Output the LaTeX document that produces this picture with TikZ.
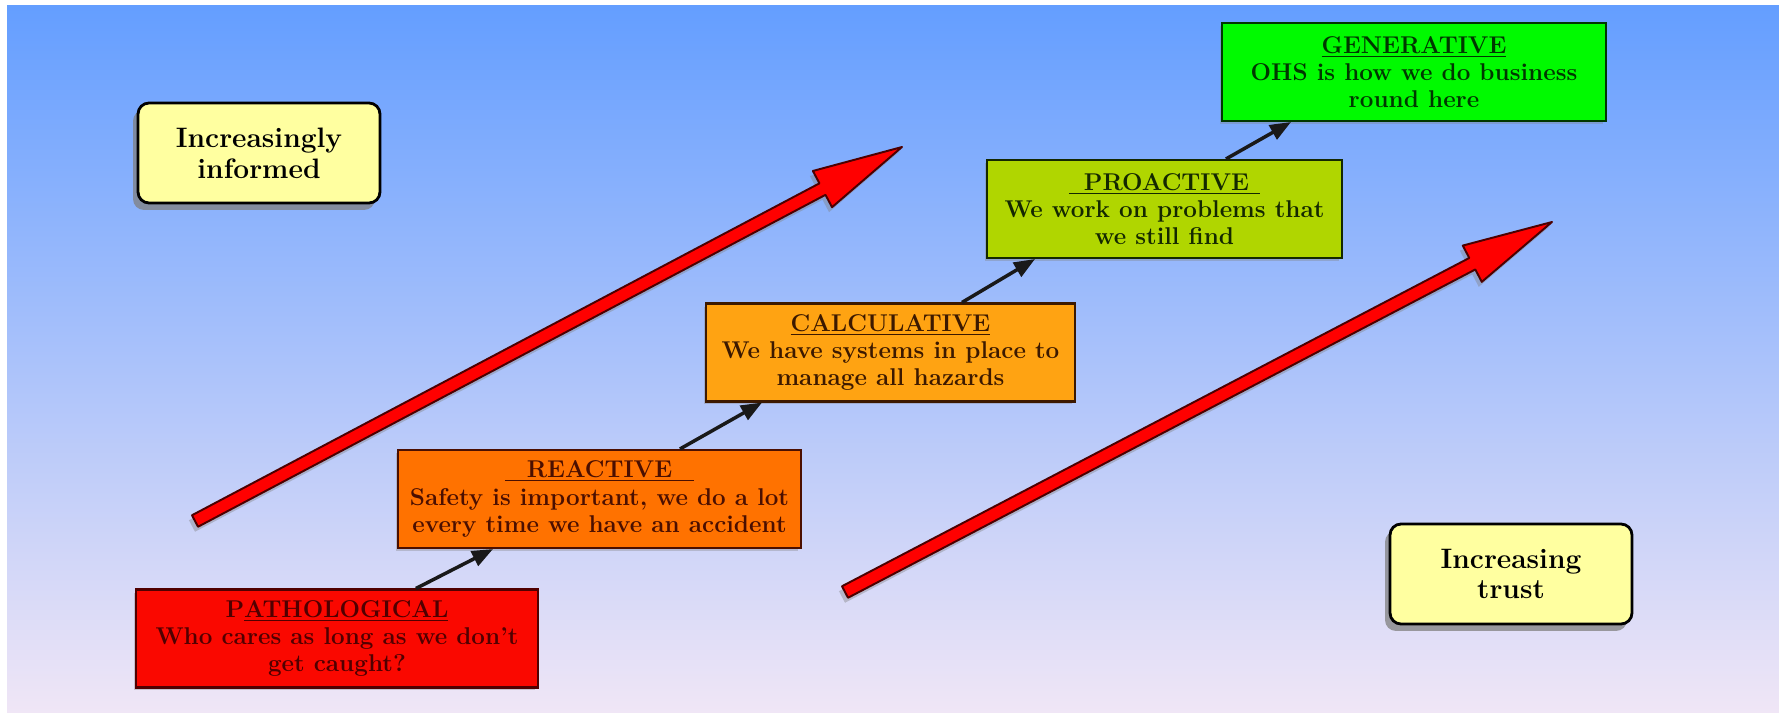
\documentclass[tikz,border=0pt]{standalone}
\usepackage{tikz}
\usetikzlibrary{arrows.meta, positioning, calc, shadows}
\definecolor{skytop}{RGB}{100,158,255}
\definecolor{skymid}{RGB}{165,192,250}
\definecolor{skybot}{RGB}{240,230,246}
\definecolor{notefill}{RGB}{255,255,160}
\definecolor{pathofill}{RGB}{250,8,0}
\definecolor{reacfill}{RGB}{255,114,0}
\definecolor{calcfill}{RGB}{255,163,18}
\definecolor{proafill}{RGB}{176,214,0}
\definecolor{genefill}{RGB}{0,250,0}
\definecolor{pathotext}{RGB}{80,0,0}
\definecolor{reactext}{RGB}{75,15,0}
\definecolor{calctext}{RGB}{60,25,0}
\definecolor{proatext}{RGB}{20,40,0}
\definecolor{genetext}{RGB}{0,55,0}
\tikzset{
    stage/.style={rectangle, draw, line width=1.2pt, minimum height=1.96cm, align=center, inner sep=2pt, font=\fontsize{13.8}{15.5}\selectfont\bfseries, drop shadow={shadow xshift=-0.05cm, shadow yshift=-0.06cm, opacity=0.35}},
    note/.style={rectangle, draw=black, line width=1.6pt, fill=notefill, rounded corners=0.22cm, minimum width=4.84cm, minimum height=2cm, align=center, font=\fontsize{16}{17.5}\selectfont\bfseries, drop shadow={shadow xshift=-0.1cm, shadow yshift=-0.14cm, opacity=0.75}},
    climb/.style={-{Triangle[length=0.42cm, width=0.32cm]}, line width=0.07cm, black!90},
    bigarrow/.style={fill=red, draw=red!30!black, line width=1.1pt, line join=round, drop shadow={shadow xshift=-0.06cm, shadow yshift=-0.1cm, opacity=0.4}},
}
\begin{document}
\begin{tikzpicture}[x=0.02cm, y=-0.02cm]
    % background
    \useasboundingbox (0,0) rectangle (1779,713);
    \fill[white] (0,0) rectangle (1779,713);
    \shade[top color=skytop, middle color=skymid, bottom color=skybot] (7,6) rectangle (1779,713);

    % side notes
    \node[note] (informed) at (259,153) {Increasingly\\informed};
    \node[note] (trust) at (1511,574) {Increasing\\trust};

    % big red arrows
    \coordinate (inf-s) at (195,521);
    \coordinate (inf-e) at (902,147);
    \coordinate (tr-s) at (845,592);
    \coordinate (tr-e) at (1552,222);
    \foreach \n in {inf, tr} {
        \coordinate (\n-b) at ($(\n-e)!1.8cm!(\n-s)$);
        \draw[bigarrow] ($(\n-s)!0.13cm!90:(\n-e)$) -- ($(\n-b)!0.13cm!90:(\n-e)$) -- ($(\n-b)!0.41cm!90:(\n-e)$) -- (\n-e)
            -- ($(\n-b)!0.41cm!-90:(\n-e)$) -- ($(\n-b)!0.13cm!-90:(\n-e)$) -- ($(\n-s)!0.13cm!-90:(\n-e)$) -- cycle;
    }

    % culture stages
    \node[stage, fill=pathofill, draw=pathotext, text=pathotext, minimum width=8.04cm] (patho) at (337,638.5) {P\underline{ATHOLOGICAL}\\Who cares as long as we don't\\get caught?};
    \node[stage, fill=reacfill, draw=reactext, text=reactext, minimum width=8.06cm] (reac) at (599.5,499) {\underline{\hspace{0.44cm}REACTIVE\hspace{0.44cm}}\\Safety is important, we do a lot\\every time we have an accident};
    \node[stage, fill=calcfill, draw=calctext, text=calctext, minimum width=7.38cm] (calc) at (890.5,352.5) {\underline{CALCULATIVE}\\We have systems in place to\\manage all hazards};
    \node[stage, fill=proafill, draw=proatext, text=proatext, minimum width=7.1cm] (proa) at (1164.5,209) {\underline{\hspace{0.3cm}PROACTIVE\hspace{0.22cm}}\\We work on problems that\\we still find};
    \node[stage, fill=genefill, draw=genetext, text=genetext, minimum width=7.68cm] (gene) at (1414,72) {\underline{GENERATIVE}\\OHS is how we do business\\round here};

    \draw[climb] ([xshift=1.58cm]patho.north) -- ([xshift=-2.13cm]reac.south);
    \draw[climb] ([xshift=1.61cm]reac.north) -- ([xshift=-2.57cm]calc.south);
    \draw[climb] ([xshift=1.43cm]calc.north) -- ([xshift=-2.59cm]proa.south);
    \draw[climb] ([xshift=1.23cm]proa.north) -- ([xshift=-2.46cm]gene.south);
\end{tikzpicture}
\end{document}
